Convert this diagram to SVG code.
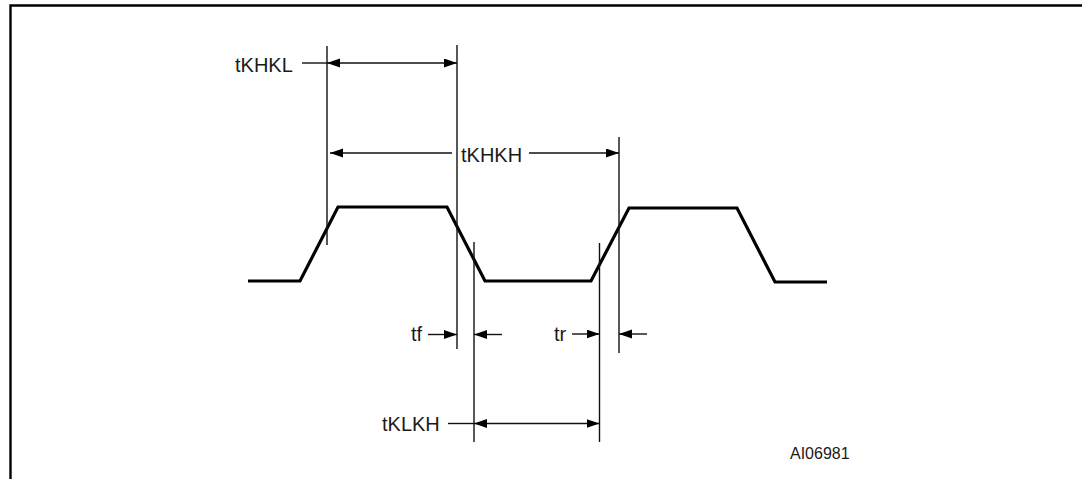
<svg xmlns="http://www.w3.org/2000/svg" width="1082" height="479" viewBox="0 0 1082 479">
  <style>
    .frame { fill: none; stroke: #000; stroke-width: 2.4; }
    .wave { fill: none; stroke: #000; stroke-width: 3.2; stroke-linejoin: miter; }
    .ref { stroke: #111; stroke-width: 1.4; }
    .dim { stroke: #111; stroke-width: 1.4; fill: none; }
    .lbl { font-family: "Liberation Sans", Arial, sans-serif; font-size: 20px; fill: #1a1a1a; }
    .id { font-family: "Liberation Sans", Arial, sans-serif; font-size: 16px; fill: #1a1a1a; }
  </style>
  <defs>
    <marker id="ah" markerUnits="userSpaceOnUse" markerWidth="13" markerHeight="10" refX="13" refY="4.5" orient="auto-start-reverse">
      <path d="M0,0 L13,4.5 L0,9 z" fill="#000"/>
    </marker>
  </defs>
  <rect width="1082" height="479" fill="#fff"/>
  <path class="frame" d="M10.5,479 V5.5 H1082"/>

  <g id="clock">
    <path class="wave" d="M248,281 H300 L338,207 H447 L485,281 H591 L629,208 H737 L775,282 H827"/>
  </g>

  <g id="reference-lines">
    <line class="ref" x1="327" y1="46" x2="327" y2="245"/>
    <line class="ref" x1="457" y1="45" x2="457" y2="349"/>
    <line class="ref" x1="474" y1="242" x2="474" y2="442"/>
    <line class="ref" x1="599.5" y1="243" x2="599.5" y2="442"/>
    <line class="ref" x1="619" y1="137" x2="619" y2="353"/>
  </g>

  <g id="connectors">
    <line class="dim" x1="302" y1="63" x2="327" y2="63"/>
    <line class="dim" x1="327" y1="63" x2="457" y2="63" marker-start="url(#ah)" marker-end="url(#ah)"/>
    <line class="dim" x1="330" y1="153" x2="452" y2="153" marker-start="url(#ah)"/>
    <line class="dim" x1="529" y1="153" x2="619" y2="153" marker-end="url(#ah)"/>
    <line class="dim" x1="428" y1="334.5" x2="457" y2="334.5" marker-end="url(#ah)"/>
    <line class="dim" x1="502" y1="334.5" x2="474" y2="334.5" marker-end="url(#ah)"/>
    <line class="dim" x1="572" y1="334" x2="599.5" y2="334" marker-end="url(#ah)"/>
    <line class="dim" x1="647" y1="334" x2="619" y2="334" marker-end="url(#ah)"/>
    <line class="dim" x1="448" y1="423.5" x2="474" y2="423.5"/>
    <line class="dim" x1="474" y1="423.5" x2="599.5" y2="423.5" marker-start="url(#ah)" marker-end="url(#ah)"/>
  </g>

  <g id="label-tKHKL"><text class="lbl" x="235" y="72">tKHKL</text></g>
  <g id="label-tKHKH"><text class="lbl" x="461" y="161.5">tKHKH</text></g>
  <g id="label-tf"><text class="lbl" x="411" y="341">tf</text></g>
  <g id="label-tr"><text class="lbl" x="554" y="341">tr</text></g>
  <g id="label-tKLKH"><text class="lbl" x="382" y="430.5">tKLKH</text></g>
  <g id="label-id"><text class="id" x="790" y="459">AI06981</text></g>
</svg>
